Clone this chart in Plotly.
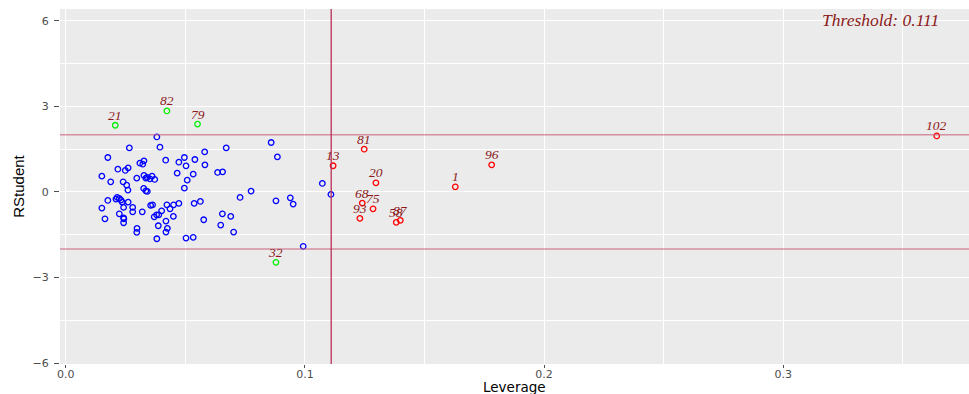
import plotly.graph_objects as go

threshold = 0.111

# normal points (blue)
blue_x = [0.0381, 0.0266, 0.0394, 0.0176, 0.0581, 0.0671, 0.0327, 0.0310, 0.0322, 0.0418,
          0.0496, 0.0540, 0.0473, 0.0503, 0.0582, 0.0218, 0.0261, 0.0249, 0.0151, 0.0297,
          0.0327, 0.0335, 0.0341, 0.0361, 0.0372, 0.0352, 0.0466, 0.0533, 0.0635, 0.0656,
          0.0188, 0.0240, 0.0255, 0.0508, 0.0260, 0.0326, 0.0335, 0.0341, 0.0496, 0.0729,
          0.0176, 0.0215, 0.0224, 0.0231, 0.0210, 0.0261, 0.0236, 0.0151, 0.0242, 0.0280,
          0.0355, 0.0363, 0.0423, 0.0451, 0.0473, 0.0436, 0.0401, 0.0537, 0.0563, 0.0280,
          0.0320, 0.0224, 0.0380, 0.0389, 0.0370, 0.0450, 0.0164, 0.0242, 0.0243, 0.0419,
          0.0577, 0.0655, 0.0690, 0.0242, 0.0387, 0.0648, 0.0298, 0.0425, 0.0297, 0.0419,
          0.0702, 0.0381, 0.0503, 0.0533, 0.0859, 0.0885, 0.1073, 0.1109, 0.0775, 0.0879,
          0.0939, 0.0951, 0.0993]
blue_y = [1.928, 1.543, 1.568, 1.207, 1.403, 1.543, 1.088, 1.008, 0.973, 1.113,
          1.207, 1.137, 1.043, 0.913, 0.948, 0.798, 0.843, 0.752, 0.553, 0.483,
          0.577, 0.483, 0.507, 0.553, 0.437, 0.458, 0.658, 0.623, 0.682, 0.703,
          0.353, 0.353, 0.238, 0.413, 0.063, 0.122, 0.038, 0.017, 0.133, -0.192,
          -0.297, -0.192, -0.227, -0.287, -0.252, -0.357, -0.357, -0.567, -0.542, -0.542,
          -0.472, -0.451, -0.451, -0.451, -0.402, -0.591, -0.661, -0.402, -0.332, -0.696,
          -0.696, -0.766, -0.801, -0.801, -0.871, -0.857, -0.941, -0.906, -0.941, -1.022,
          -0.976, -0.766, -0.857, -1.081, -1.186, -1.162, -1.277, -1.277, -1.417, -1.407,
          -1.407, -1.641, -1.617, -1.592, 1.732, 1.228, 0.297, -0.087, 0.028, -0.311,
          -0.206, -0.427, -1.907]

# outliers (green)
green_x = [0.0207, 0.0423, 0.0551, 0.0879]
green_y = [2.337, 2.838, 2.379, -2.467]
green_lab = ["21", "82", "79", "32"]

# leverage points (red)
red_x = [0.1118, 0.1248, 0.1297, 0.1629, 0.1781, 0.1240, 0.1285, 0.1230, 0.1382, 0.1399, 0.3642]
red_y = [0.918, 1.498, 0.318, 0.178, 0.948, -0.392, -0.591, -0.927, -1.067, -0.997, 1.963]
red_lab = ["13", "81", "20", "1", "96", "68", "75", "93", "58", "87", "102"]

x_ticks = [0.0, 0.1, 0.2, 0.3]
y_ticks = [-6, -3, 0, 3, 6]
resid_cut = 2

fig = go.Figure()

mk = dict(symbol="circle-open", size=5.5, line=dict(width=1.3))

fig.add_trace(go.Scatter(x=blue_x, y=blue_y, mode="markers",
                         marker=dict(color="#0000ff", **mk), showlegend=False))
fig.add_trace(go.Scatter(x=green_x, y=green_y, mode="markers",
                         marker=dict(color="#00ee00", **mk), showlegend=False))
fig.add_trace(go.Scatter(x=red_x, y=red_y, mode="markers",
                         marker=dict(color="#ff0000", **mk), showlegend=False))

serif = "Liberation Serif, Times New Roman, serif"
sans = "DejaVu Sans, Liberation Sans, Arial, sans-serif"
lab_col = "#8b1a1a"

for lx, ly, lt in zip(green_x + red_x, green_y + red_y, green_lab + red_lab):
    fig.add_annotation(x=lx, y=ly, text="<i>" + lt + "</i>", showarrow=False,
                       xanchor="center", yanchor="middle", yshift=10,
                       font=dict(family=serif, size=13.5, color=lab_col))

line_col = "#c8607a"
fig.add_hline(y=resid_cut, line=dict(color=line_col, width=1))
fig.add_hline(y=-resid_cut, line=dict(color=line_col, width=1))
fig.add_vline(x=threshold, line=dict(color="#b83058", width=1.3))

fig.add_annotation(text="<i>Threshold: " + str(threshold) + "</i>", xref="paper", yref="paper",
                   x=0.903, y=0.968, xanchor="center", yanchor="middle", showarrow=False,
                   font=dict(family=serif, size=17.5, color=lab_col))

fig.add_annotation(text="Leverage", xref="paper", yref="paper", x=0.5, y=0,
                   xanchor="center", yanchor="middle", yshift=-23, showarrow=False,
                   font=dict(family=sans, size=13.5, color="black"))

axis_common = dict(showgrid=True, gridcolor="white", gridwidth=1.1, zeroline=False,
                   ticks="outside", tickcolor="#4d4d4d", tickwidth=1,
                   tickfont=dict(family=sans, size=11, color="#4d4d4d"),
                   showline=False)

fig.update_xaxes(range=[-0.0024, 0.3777], tickvals=x_ticks, tickformat=".1f", ticklen=3,
                 ticklabelstandoff=-3,
                 minor=dict(dtick=0.05, tick0=0.05, showgrid=True, gridcolor="white", gridwidth=0.5, ticks=""),
                 **axis_common)
fig.update_yaxes(range=[-6.03, 6.41], tickvals=y_ticks, ticklen=5, ticklabelstandoff=3,
                 minor=dict(dtick=1.5, tick0=-4.5, showgrid=True, gridcolor="white", gridwidth=0.5, ticks=""),
                 title=dict(text="RStudent", standoff=4,
                            font=dict(family="Liberation Sans Narrow, Liberation Sans, Arial, sans-serif", size=15, color="black")),
                 **axis_common)

fig.update_layout(width=969, height=394, margin=dict(l=60, r=0, t=9, b=30),
                  plot_bgcolor="#ebebeb", paper_bgcolor="white")

fig.write_html("out.html")
